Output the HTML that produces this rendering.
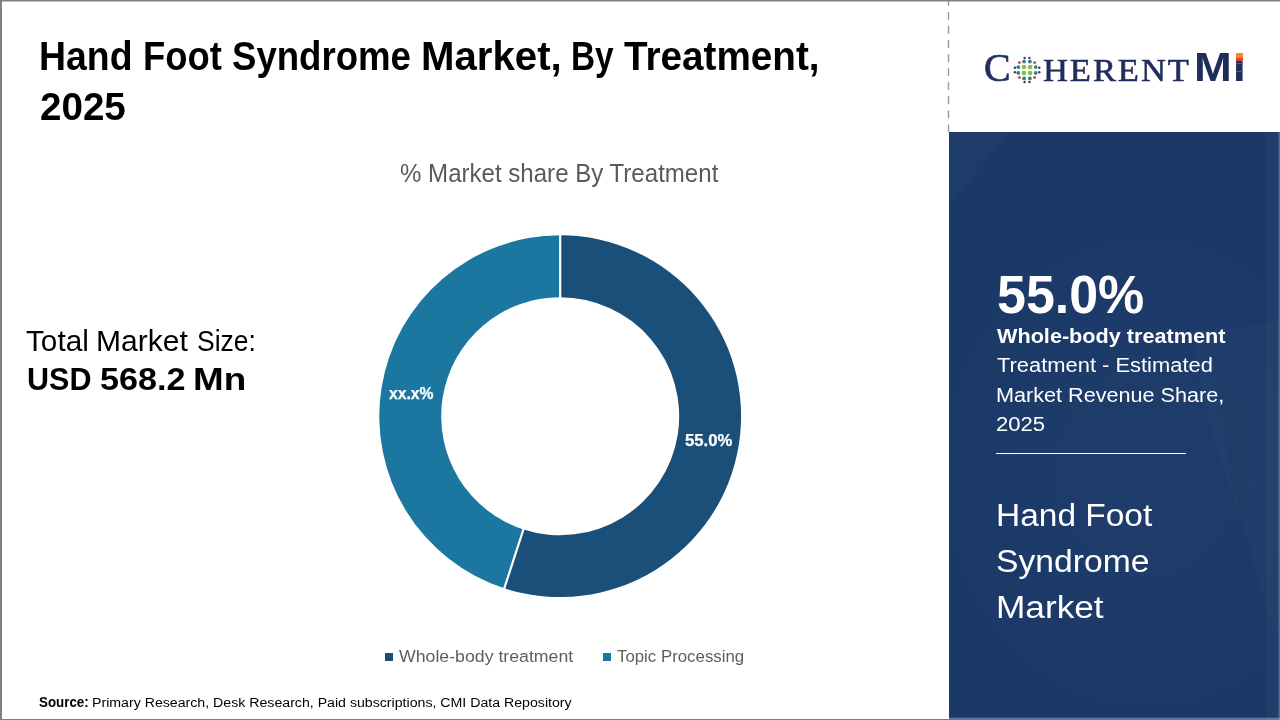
<!DOCTYPE html>
<html lang="en">
<head>
<meta charset="utf-8">
<title>Hand Foot Syndrome Market, By Treatment, 2025</title>
<style>
html,body{margin:0;padding:0;background:#fff;}
body{width:1280px;height:720px;overflow:hidden;position:relative;font-family:"Liberation Sans",sans-serif;color:#000;}
#slide{position:absolute;left:0;top:0;width:1280px;height:720px;background:#fff;overflow:hidden;}
.bd{position:absolute;background:#808080;}
.ln{position:absolute;left:0;top:0;margin:0;padding:0;font-size:16px;font-weight:400;line-height:1;}
.t{display:block;position:absolute;white-space:nowrap;transform-origin:0 0;line-height:1;margin:0;padding:0;}
#panel{position:absolute;left:948.6px;top:132.3px;width:331px;height:588px;background:#1b3968 radial-gradient(ellipse 70% 45% at 60% 58%, rgba(255,255,255,0.02), rgba(255,255,255,0) 100%);overflow:hidden;}
#panel .t{color:#fff;}
#rule{position:absolute;left:996.4px;top:452.6px;width:190px;height:1.2px;background:#fff;}
.sq{position:absolute;width:8px;height:8px;}

/*FIT*/
#t1a{left:39.20px;top:37.06px;font-size:39.72px;transform:scaleX(0.9413);font-weight:700}
#t1b{left:143.10px;top:37.06px;font-size:39.72px;transform:scaleX(0.9171);font-weight:700}
#t1c{left:231.90px;top:37.06px;font-size:39.72px;transform:scaleX(0.9214);font-weight:700}
#t1d{left:420.75px;top:37.06px;font-size:39.72px;transform:scaleX(1.0120);font-weight:700}
#t1e{left:571.35px;top:37.06px;font-size:39.72px;transform:scaleX(0.8400);font-weight:700}
#t1f{left:623.80px;top:37.06px;font-size:39.72px;transform:scaleX(0.9738);font-weight:700}
#t2{left:39.67px;top:87.26px;font-size:39.28px;transform:scaleX(0.9824);font-weight:700}
#tm1a{left:25.50px;top:326.81px;font-size:29.14px;transform:scaleX(1.0213);font-weight:400}
#tm1b{left:95.60px;top:326.81px;font-size:29.14px;transform:scaleX(1.0317);font-weight:400}
#tm1c{left:196.95px;top:326.81px;font-size:29.14px;transform:scaleX(0.9099);font-weight:400}
#tm2a{left:26.55px;top:364.38px;font-size:31.09px;transform:scaleX(0.9817);font-weight:700}
#tm2b{left:100.00px;top:364.38px;font-size:31.09px;transform:scaleX(1.0983);font-weight:700}
#tm2c{left:193.35px;top:364.38px;font-size:31.09px;transform:scaleX(1.1849);font-weight:700}
#ct{left:400.35px;top:161.07px;font-size:25.22px;transform:scaleX(0.9543);font-weight:400}
#l1{left:389.05px;top:385.95px;font-size:16.60px;transform:scaleX(0.9475);font-weight:700}
#l2{left:684.50px;top:433.00px;font-size:16.60px;transform:scaleX(1.0061);font-weight:700}
#lg1{left:399.25px;top:648.85px;font-size:16.90px;transform:scaleX(1.0484);font-weight:400}
#lg2{left:616.95px;top:648.85px;font-size:16.90px;transform:scaleX(0.9958);font-weight:400}
#src1{left:39.10px;top:695.97px;font-size:13.89px;transform:scaleX(0.9615);font-weight:700}
#src2{left:92.24px;top:696.13px;font-size:13.70px;transform:scaleX(1.0337);font-weight:400}
#p1{left:997.39px;top:268.15px;font-size:53.26px;transform:scaleX(0.9755);font-weight:700}
#p2{left:996.80px;top:327.42px;font-size:19.43px;transform:scaleX(1.1143);font-weight:700}
#p3{left:996.50px;top:355.24px;font-size:20.00px;transform:scaleX(1.0950);font-weight:400}
#p4{left:995.66px;top:384.64px;font-size:20.00px;transform:scaleX(1.0808);font-weight:400}
#p5{left:996.00px;top:413.59px;font-size:20.36px;transform:scaleX(1.0843);font-weight:400}
#p6{left:996.45px;top:500.48px;font-size:31.88px;transform:scaleX(1.0500);font-weight:400}
#p7{left:996.45px;top:545.88px;font-size:31.88px;transform:scaleX(1.0560);font-weight:400}
#p8{left:996.40px;top:591.58px;font-size:31.88px;transform:scaleX(1.1050);font-weight:400}
/*ENDFIT*/
#ct{color:#5a5a5a}
#lg1,#lg2{color:#5e5e5e}
#l1,#l2{color:#fff;-webkit-text-stroke:0.25px #fff}
#ptext .t{color:#fff}
.lg{font-family:"Liberation Serif",serif;}
#logo .t{color:#1f2d5c}
#lgC{left:984.0px;top:49.0px;-webkit-text-stroke:0.7px #1f2d5c;font-size:39.70px;transform:scaleX(1.0042);font-weight:400}
#lgH{left:1043.2px;top:53.6px;-webkit-text-stroke:0.6px #1f2d5c;font-size:32.62px;transform:scaleX(1.06);letter-spacing:1.8px;font-weight:400}
#lgM{left:1194.2px;top:47.4px;font-size:40.6px;transform:scaleX(1.118);font-weight:700;letter-spacing:1px}
</style>
</head>
<body>
<div id="slide">
  <h1 class="ln" id="t1"><span class="t" id="t1a">Hand</span> <span class="t" id="t1b">Foot</span> <span class="t" id="t1c">Syndrome</span> <span class="t" id="t1d">Market,</span> <span class="t" id="t1e">By</span> <span class="t" id="t1f">Treatment,</span></h1>
  <h1 class="ln"><span class="t" id="t2">2025</span></h1>

  <div class="ln" id="tm1"><span class="t" id="tm1a">Total</span> <span class="t" id="tm1b">Market</span> <span class="t" id="tm1c">Size:</span></div>
  <div class="ln" id="tm2"><span class="t" id="tm2a">USD</span> <span class="t" id="tm2b">568.2</span> <span class="t" id="tm2c">Mn</span></div>

  <div class="t" id="ct">% Market share By Treatment</div>

  <svg id="donut" width="1280" height="720" viewBox="0 0 1280 720" style="position:absolute;left:0;top:0">
    <path id="seg1" fill="#1a4f79" d="M560.20 235.30A180.9 180.9 0 1 1 504.30 588.25L523.43 529.38A119 119 0 1 0 560.20 297.20Z"/>
    <path id="seg2" fill="#1b76a0" d="M504.30 588.25A180.9 180.9 0 0 1 560.20 235.30L560.20 297.20A119 119 0 0 0 523.43 529.38Z"/>
    <path stroke="#fff" stroke-width="2.2" fill="none" d="M560.2 233V299M503.68 590.15L524.05 527.47"/>
  </svg>
  <div class="t" id="l1">xx.x%</div>
  <div class="t" id="l2">55.0%</div>

  <div class="sq" style="left:385px;top:653px;background:#1a4f79"></div>
  <div class="t" id="lg1">Whole-body treatment</div>
  <div class="sq" style="left:603px;top:653px;background:#1b76a0"></div>
  <div class="t" id="lg2">Topic Processing</div>

  <div class="t" id="src1">Source:</div>
  <div class="t" id="src2">Primary Research, Desk Research, Paid subscriptions, CMI Data Repository</div>

  <svg id="dash" width="3" height="134" viewBox="0 0 3 134" style="position:absolute;left:947px;top:0"><path d="M1.5 132.3V0" stroke="#9a9a9a" stroke-width="1.4" stroke-dasharray="7.8 6.27" fill="none"/></svg>
  <div id="logo">
    <span class="t lg" id="lgC">C</span>
    <svg id="globe" width="32" height="32" viewBox="-16 -16 32 32" style="position:absolute;left:1011.1px;top:53.7px">
      <g fill="#8cc043"><circle cx="-3.1" cy="-3" r="2.35"/><circle cx="3.1" cy="-3" r="2.35"/><circle cx="-3.1" cy="3" r="2.35"/><circle cx="3.1" cy="3" r="2.35"/></g>
      <g fill="#2f7f8f"><circle cx="-2.9" cy="-8.4" r="1.9"/><circle cx="2.9" cy="-8.4" r="1.9"/><circle cx="-2.9" cy="8.4" r="1.9"/><circle cx="2.9" cy="8.4" r="1.9"/><circle cx="-8.7" cy="-2.9" r="1.9"/><circle cx="-8.7" cy="2.9" r="1.9"/><circle cx="8.7" cy="-2.9" r="1.9"/><circle cx="8.7" cy="2.9" r="1.9"/></g>
      <g fill="#c93a5e" fill-opacity="0.9"><circle cx="-7.6" cy="-7.5" r="1.5"/><circle cx="7.6" cy="-7.5" r="1.5"/><circle cx="-7.6" cy="7.5" r="1.5"/><circle cx="7.6" cy="7.5" r="1.5"/></g>
      <g fill="#4a3558"><circle cx="-2.4" cy="-12" r="1.2"/><circle cx="2.4" cy="-12" r="1.2"/><circle cx="-2.4" cy="12" r="1.2"/><circle cx="2.4" cy="12" r="1.2"/><circle cx="-12.1" cy="-2.2" r="1.2"/><circle cx="-12.1" cy="2.2" r="1.2"/><circle cx="12.3" cy="-2.2" r="1.2"/><circle cx="12.3" cy="2.2" r="1.2"/></g>
    </svg>
    <span class="t lg" id="lgH">HERENT</span>
    <span class="t" id="lgM">MI</span>
    <i id="io" style="position:absolute;left:1235.6px;top:53.4px;width:7px;height:4.2px;background:#f28a1e"></i>
    <i id="ir" style="position:absolute;left:1235.6px;top:57.6px;width:7px;height:3.2px;background:#e2413c"></i>
    <i style="position:absolute;left:1235.6px;top:63.4px;width:7px;height:0.8px;background:#4f5d8d"></i>
    <i style="position:absolute;left:1235.6px;top:70.9px;width:7px;height:0.8px;background:#4f5d8d"></i>
  </div>

  <div id="panel">
    <svg width="331" height="588" viewBox="0 0 331 588" style="position:absolute;left:0;top:0">
      <polygon points="0,0 60,0 0,75" fill="#fff" fill-opacity="0.015"/>
      <polygon points="245,200 331,190 331,500 318,480 296,400 272,330 255,270" fill="#fff" fill-opacity="0.016"/>
      <polygon points="268,250 290,262 300,330 296,400 282,345" fill="#000" fill-opacity="0.025"/>
      <rect x="317" y="0" width="14" height="588" fill="#fff" fill-opacity="0.022"/>
      <rect x="0" y="585.7" width="331" height="2.3" fill="#8fa3c4" fill-opacity="0.6"/>
      <rect x="329.5" y="0" width="1.5" height="588" fill="#8fa3c4" fill-opacity="0.45"/>
    </svg>
  </div>
  <div id="ptext">
    <div class="t" id="p1">55.0%</div>
    <div class="t" id="p2">Whole-body treatment</div>
    <div class="t" id="p3">Treatment - Estimated</div>
    <div class="t" id="p4">Market Revenue Share,</div>
    <div class="t" id="p5">2025</div>
    <div id="rule"></div>
    <div class="t" id="p6">Hand Foot</div>
    <div class="t" id="p7">Syndrome</div>
    <div class="t" id="p8">Market</div>
  </div>

  <div class="bd" style="left:0;top:0;width:1280px;height:1px"></div>
  <div class="bd" style="left:0;top:1px;width:1280px;height:1px;opacity:0.5"></div>
  <div class="bd" style="left:0;top:0;width:2px;height:720px"></div>
  <div class="bd" style="left:0;top:718.8px;width:949px;height:1.2px"></div>
</div>
</body>
</html>
